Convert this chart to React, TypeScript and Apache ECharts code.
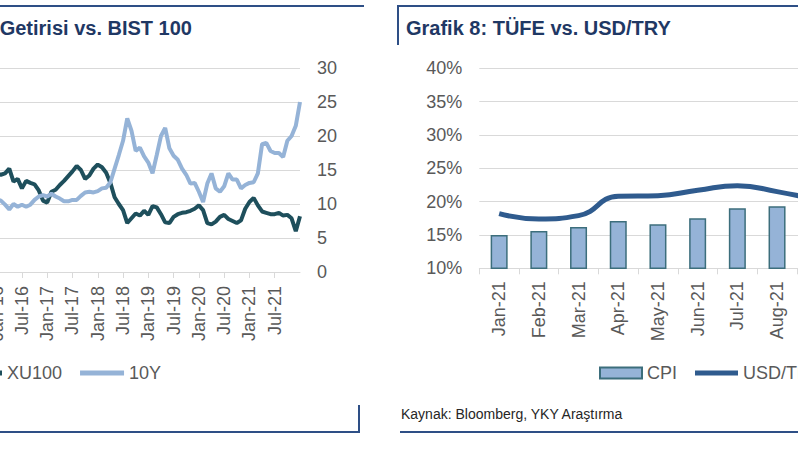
import React, { useEffect, useRef } from "react";
import * as echarts from "echarts";

const FONT = '"Liberation Sans", Arial, sans-serif';

// Left chart (10Y yield vs XU100), monthly
const LEFT_CATS = [
  "Oct-15", "Nov-15", "Dec-15",
  "Jan-16", "Feb-16", "Mar-16", "Apr-16", "May-16", "Jun-16", "Jul-16", "Aug-16", "Sep-16", "Oct-16", "Nov-16", "Dec-16",
  "Jan-17", "Feb-17", "Mar-17", "Apr-17", "May-17", "Jun-17", "Jul-17", "Aug-17", "Sep-17", "Oct-17", "Nov-17", "Dec-17",
  "Jan-18", "Feb-18", "Mar-18", "Apr-18", "May-18", "Jun-18", "Jul-18", "Aug-18", "Sep-18", "Oct-18", "Nov-18", "Dec-18",
  "Jan-19", "Feb-19", "Mar-19", "Apr-19", "May-19", "Jun-19", "Jul-19", "Aug-19", "Sep-19", "Oct-19", "Nov-19", "Dec-19",
  "Jan-20", "Feb-20", "Mar-20", "Apr-20", "May-20", "Jun-20", "Jul-20", "Aug-20", "Sep-20", "Oct-20", "Nov-20", "Dec-20",
  "Jan-21", "Feb-21", "Mar-21", "Apr-21", "May-21", "Jun-21", "Jul-21", "Aug-21", "Sep-21", "Oct-21", "Nov-21", "Dec-21",
  "Jan-22",
];

const XU100 = [
  13.0, 14.0, 14.8,
  14.5, 14.3, 14.5, 15.2, 13.3, 13.7, 12.3, 13.4, 13.1, 12.9, 12.0, 10.5,
  10.2, 11.8, 12.1, 12.8, 13.4, 14.1, 14.8, 15.6, 15.0, 13.7, 14.2, 15.2,
  15.8, 15.4, 14.6, 13.1, 11.0, 10.0, 9.1, 7.2, 7.9, 8.6, 8.3, 9.0,
  8.4, 9.7, 9.5, 8.5, 7.3, 7.2, 8.1, 8.5, 8.7, 8.8, 9.0, 9.3,
  9.8, 9.1, 7.2, 7.0, 7.4, 8.1, 8.4, 7.8, 7.5, 7.2, 7.6, 9.3,
  10.3, 10.9, 9.8, 8.9, 8.7, 8.5, 8.5, 8.7, 8.3, 8.4, 7.9, 6.0,
  8.2,
];

const Y10 = [
  10.0, 10.5, 10.8,
  10.7, 10.5, 9.9, 9.2, 10.0, 9.6, 9.9, 9.6, 9.9, 10.6, 11.1, 11.3,
  11.1, 11.5, 11.1, 10.8, 10.4, 10.4, 10.6, 10.6, 11.2, 11.7, 11.8, 11.7,
  11.9, 12.3, 12.4, 13.2, 15.2, 17.2, 19.3, 22.6, 20.8, 17.8, 18.3, 17.0,
  16.1, 14.5, 17.2, 20.0, 21.2, 18.2, 17.1, 16.5, 15.2, 14.3, 13.0, 13.1,
  11.8, 10.3, 13.0, 14.5, 12.3, 11.8, 12.6, 14.5, 13.6, 13.6, 12.3, 12.8,
  13.1, 13.2, 14.5, 18.8, 19.0, 17.8, 17.5, 17.5, 16.9, 19.3, 20.0, 21.5,
  25.0,
];

const LEFT_Y_TICKS = { min: 0, max: 30, interval: 5 };

// Right chart (CPI vs USD/TRY), %
const RIGHT_CATS = ["Jan-21", "Feb-21", "Mar-21", "Apr-21", "May-21", "Jun-21", "Jul-21", "Aug-21", "Sep-21"];
const CPI = [15.0, 15.6, 16.2, 17.1, 16.6, 17.5, 19.0, 19.3, 19.6];
const USDTRY = [18.2, 17.4, 17.9, 20.8, 20.9, 21.7, 22.4, 21.5, 20.3];
const RIGHT_Y_TICKS = { min: 10, max: 40, interval: 5 };

const OX = 60; // chart canvas is shifted left so clipped parts fall outside the page

const GRAY_TXT = "#595959";
const GRID_C = "#D9D9D9";
const BORDER = "#2E4F86";
const TITLE_C = "#1F3864";

const isHalfYear = (i: number, v: string) =>
  i < LEFT_CATS.length - 1 && (v.startsWith("Jan") || v.startsWith("Jul"));

export default function App() {
  const ref = useRef<HTMLDivElement>(null);
  useEffect(() => {
    if (!ref.current) return;
    const chart = echarts.init(ref.current, undefined, { renderer: "svg" });
    const line = (x1: number, y1: number, x2: number, y2: number) => ({
      type: "line",
      shape: { x1, y1, x2, y2 },
      style: { stroke: BORDER, lineWidth: 2 },
      silent: true,
    });
    chart.setOption({
      animation: false,
      textStyle: { fontFamily: FONT },
      grid: [
        { left: 44, right: 600, top: 68, bottom: 178 },
        { left: 539.3, right: 63.4, top: 68.3, bottom: 181.7 },
      ],
      legend: [
        {
          data: ["XU100", "10Y"],
          left: 18,
          top: 364,
          padding: 0,
          itemWidth: 44,
          itemHeight: 5,
          itemGap: 18,
          icon: "rect",
          textStyle: { color: GRAY_TXT, fontSize: 18, fontFamily: FONT },
        },
        {
          data: ["CPI"],
          left: 659,
          top: 364,
          padding: 0,
          itemWidth: 42,
          itemHeight: 11,
          icon: "rect",
          textStyle: { color: GRAY_TXT, fontSize: 18, fontFamily: FONT },
        },
        {
          data: ["USD/TRY"],
          left: 755,
          top: 364,
          padding: 0,
          itemWidth: 43,
          itemHeight: 5,
          icon: "rect",
          textStyle: { color: GRAY_TXT, fontSize: 18, fontFamily: FONT },
        },
      ],
      xAxis: [
        {
          type: "category",
          gridIndex: 0,
          data: LEFT_CATS,
          boundaryGap: false,
          axisLine: { lineStyle: { color: GRID_C } },
          axisTick: { show: true, length: 6, interval: isHalfYear, lineStyle: { color: GRID_C } },
          axisLabel: { interval: isHalfYear, rotate: 90, color: GRAY_TXT, fontSize: 18, margin: 14, fontFamily: FONT },
          splitLine: { show: false },
        },
        {
          type: "category",
          gridIndex: 1,
          data: RIGHT_CATS,
          axisLine: { lineStyle: { color: GRID_C } },
          axisTick: { show: true, length: 6, lineStyle: { color: GRID_C } },
          axisLabel: { interval: 0, rotate: 90, color: GRAY_TXT, fontSize: 18, margin: 13, fontFamily: FONT },
        },
      ],
      yAxis: [
        {
          type: "value",
          gridIndex: 0,
          position: "right",
          ...LEFT_Y_TICKS,
          axisLine: { show: false },
          axisTick: { show: false },
          axisLabel: { color: GRAY_TXT, fontSize: 18, margin: 17, fontFamily: FONT },
          splitLine: { lineStyle: { color: GRID_C, width: 1 } },
        },
        {
          type: "value",
          gridIndex: 1,
          ...RIGHT_Y_TICKS,
          axisLine: { show: false },
          axisTick: { show: false },
          axisLabel: { color: GRAY_TXT, fontSize: 18, margin: 17, formatter: "{value}%", fontFamily: FONT },
          splitLine: { lineStyle: { color: GRID_C, width: 1 } },
        },
      ],
      series: [
        {
          name: "XU100",
          type: "line",
          xAxisIndex: 0,
          yAxisIndex: 0,
          data: XU100,
          showSymbol: false,
          lineStyle: { color: "#1E4F5C", width: 4 },
          itemStyle: { color: "#1E4F5C" },
        },
        {
          name: "10Y",
          type: "line",
          xAxisIndex: 0,
          yAxisIndex: 0,
          data: Y10,
          showSymbol: false,
          lineStyle: { color: "#95B3D7", width: 4 },
          itemStyle: { color: "#95B3D7" },
        },
        {
          name: "CPI",
          type: "bar",
          xAxisIndex: 1,
          yAxisIndex: 1,
          data: CPI,
          barWidth: 17,
          itemStyle: { color: "#95B3D7", borderColor: "#3C6E7C", borderWidth: 1.5 },
        },
        {
          name: "USD/TRY",
          type: "line",
          xAxisIndex: 1,
          yAxisIndex: 1,
          data: USDTRY,
          smooth: true,
          showSymbol: false,
          lineStyle: { color: "#2F5B8E", width: 5 },
          itemStyle: { color: "#2F5B8E" },
        },
      ],
      graphic: [
        line(0, 6, 424, 6),
        line(0, 432, 419, 432),
        line(419, 405, 419, 433),
        line(458, 5, 458, 45),
        line(457, 6, 960, 6),
        line(460, 432, 960, 432),
        {
          type: "text",
          silent: true,
          style: {
            text: "Getirisi vs. BIST 100",
            x: 252,
            y: 28,
            fill: TITLE_C,
            font: `bold 20px ${FONT}`,
            textAlign: "right",
            textVerticalAlign: "middle",
            align: "right",
            verticalAlign: "middle",
          },
        },
        {
          type: "text",
          silent: true,
          style: {
            text: "Grafik 8: TÜFE vs. USD/TRY",
            x: 466,
            y: 28,
            fill: TITLE_C,
            font: `bold 20px ${FONT}`,
            textAlign: "left",
            textVerticalAlign: "middle",
            align: "left",
            verticalAlign: "middle",
          },
        },
        {
          type: "text",
          silent: true,
          style: {
            text: "Kaynak: Bloomberg, YKY Araştırma",
            x: 461,
            y: 414,
            fill: "#262626",
            font: `14px ${FONT}`,
            textAlign: "left",
            textVerticalAlign: "middle",
            align: "left",
            verticalAlign: "middle",
          },
        },
      ],
    });
    return () => chart.dispose();
  }, []);
  return (
    <div style={{ position: "fixed", left: 0, top: 0, width: 798, height: 450, overflow: "hidden", background: "#fff" }}>
      <div ref={ref} style={{ position: "absolute", left: -OX, top: 0, width: 960, height: 450 }} />
    </div>
  );
}
